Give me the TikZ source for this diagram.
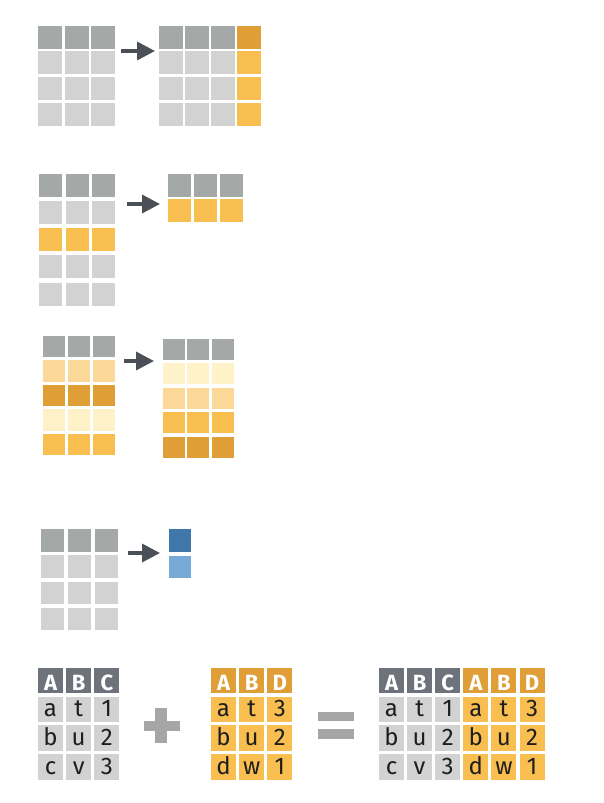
\documentclass[tikz,border=0pt]{standalone}
\usepackage{fontspec}
\setmainfont{Fira Sans}
\usepackage{xcolor}
\usetikzlibrary{arrows.meta}
\definecolor{hdrgray}{HTML}{A4A8A6}
\definecolor{cellgray}{HTML}{D2D2D2}
\definecolor{darkorange}{HTML}{E09E36}
\definecolor{midorange}{HTML}{F9BE50}
\definecolor{lightorange}{HTML}{FBD898}
\definecolor{paleorange}{HTML}{FFF1C8}
\definecolor{darkblue}{HTML}{3F77AB}
\definecolor{lightblue}{HTML}{77AAD7}
\definecolor{slate}{HTML}{6E737B}
\definecolor{arrowgray}{HTML}{4B4F56}
\definecolor{opgray}{HTML}{A6A6A6}
\definecolor{textblack}{HTML}{1E1E1E}
\tikzstyle{cell} = [rectangle, inner sep=0pt, minimum width=24pt, minimum height=23pt]
\tikzstyle{hcell} = [cell, minimum width=25pt, minimum height=25.5pt, text height=20pt, text depth=0pt, text=white, font=\bfseries\fontsize{22}{22}\selectfont]
\tikzstyle{dcell} = [cell, minimum width=25pt, minimum height=25.5pt, text height=15pt, text depth=0pt, text=textblack, font=\fontsize{24}{24}\selectfont]
\tikzstyle{line} = [draw, arrowgray, line width=3.5pt, -{Triangle[length=18pt,width=18pt]}]
\begin{document}
\begin{tikzpicture}[x=1pt,y=-1pt]
\useasboundingbox (0,0) rectangle (603,803);
% add a column
\foreach \c in {1,2,3} {
  \node [cell, fill=hdrgray] (add-l-0-\c) at ({50+26.7*(\c-1)},37) {};
  \foreach \r in {1,2,3}
    \node [cell, fill=cellgray] (add-l-\r-\c) at ({50+26.7*(\c-1)},{37+25.9*\r}) {};
}
\foreach \c in {1,2,3,4} {
  \node [cell, fill=hdrgray] (add-r-0-\c) at ({171+25.9*(\c-1)},37) {};
  \foreach \r in {1,2,3}
    \node [cell, fill=cellgray] (add-r-\r-\c) at ({171+25.9*(\c-1)},{37+25.9*\r}) {};
}
\node [cell, fill=darkorange] (add-new-0) at (add-r-0-4) {};
\foreach \r in {1,2,3}
  \node [cell, fill=midorange] (add-new-\r) at (add-r-\r-4) {};
\coordinate (arr-add-s) at (121,51);
\coordinate (arr-add-e) at (155,51);
\path [line] (arr-add-s) -- (arr-add-e);

% filter rows
\foreach \r/\col in {0/hdrgray,1/cellgray,2/midorange,3/cellgray,4/cellgray}
  \foreach \c in {1,2,3}
    \node [cell, minimum width=23pt, fill=\col] (flt-l-\r-\c) at ({50.5+26.5*(\c-1)},{185+27.3*\r}) {};
\foreach \r/\col in {0/hdrgray,1/midorange}
  \foreach \c in {1,2,3}
    \node [cell, minimum width=23pt, fill=\col] (flt-r-\r-\c) at ({179.5+26*(\c-1)},{185+25.5*\r}) {};
\coordinate (arr-flt-s) at (127,204);
\coordinate (arr-flt-e) at (160,204);
\path [line] (arr-flt-s) -- (arr-flt-e);

% arrange rows
\foreach \r/\col in {0/hdrgray,1/lightorange,2/darkorange,3/paleorange,4/midorange}
  \foreach \c in {1,2,3}
    \node [cell, minimum width=22pt, minimum height=21.5pt, fill=\col] (arr-l-\r-\c) at ({53.5+25.3*(\c-1)},{346.5+24.5*\r}) {};
\foreach \r/\col in {0/hdrgray,1/paleorange,2/lightorange,3/midorange,4/darkorange}
  \foreach \c in {1,2,3}
    \node [cell, minimum width=22pt, minimum height=21pt, fill=\col] (arr-r-\r-\c) at ({173.5+24.5*(\c-1)},{349+24.5*\r}) {};
\coordinate (arr-arr-s) at (124,361);
\coordinate (arr-arr-e) at (154,361);
\path [line] (arr-arr-s) -- (arr-arr-e);

% summarise
\foreach \r/\col in {0/hdrgray,1/cellgray,2/cellgray,3/cellgray}
  \foreach \c in {1,2,3}
    \node [cell, minimum width=23pt, minimum height=22.5pt, fill=\col] (sum-l-\r-\c) at ({52.5+27*(\c-1)},{540.5+26.2*\r}) {};
\node [cell, minimum width=22pt, minimum height=22.5pt, fill=darkblue] (sum-r-0) at (180,540.5) {};
\node [cell, minimum width=22pt, minimum height=22.5pt, fill=lightblue] (sum-r-1) at (180,567) {};
\coordinate (arr-sum-s) at (128,553);
\coordinate (arr-sum-e) at (160,553);
\path [line] (arr-sum-s) -- (arr-sum-e);

% bind columns
\foreach \c/\t in {1/A,2/B,3/C}
  \node [hcell, fill=slate] (x-0-\c) at ({50.5+28.2*(\c-1)},680.5) {\t};
\foreach \r/\p/\q/\s in {1/a/t/1,2/b/u/2,3/c/v/3} {
  \node [dcell, fill=cellgray] (x-\r-1) at (50.5,{680.5+28.8*\r}) {\p};
  \node [dcell, fill=cellgray] (x-\r-2) at (78.7,{680.5+28.8*\r}) {\q};
  \node [dcell, fill=cellgray] (x-\r-3) at (106.9,{680.5+28.8*\r}) {\s};
}
\foreach \c/\t in {1/A,2/B,3/D}
  \node [hcell, fill=darkorange] (y-0-\c) at ({223.5+28.2*(\c-1)},680.5) {\t};
\foreach \r/\p/\q/\s in {1/a/t/3,2/b/u/2,3/d/w/1} {
  \node [dcell, fill=midorange] (y-\r-1) at (223.5,{680.5+28.8*\r}) {\p};
  \node [dcell, fill=midorange] (y-\r-2) at (251.7,{680.5+28.8*\r}) {\q};
  \node [dcell, fill=midorange] (y-\r-3) at (279.9,{680.5+28.8*\r}) {\s};
}
\foreach \c/\t/\col in {1/A/slate,2/B/slate,3/C/slate,4/A/darkorange,5/B/darkorange,6/D/darkorange}
  \node [hcell, fill=\col] (xy-0-\c) at ({391.5+28.1*(\c-1)},680.5) {\t};
\foreach \r/\p/\q/\s/\u/\v/\w in {1/a/t/1/a/t/3,2/b/u/2/b/u/2,3/c/v/3/d/w/1} {
  \node [dcell, fill=cellgray] (xy-\r-1) at (391.5,{680.5+28.8*\r}) {\p};
  \node [dcell, fill=cellgray] (xy-\r-2) at (419.6,{680.5+28.8*\r}) {\q};
  \node [dcell, fill=cellgray] (xy-\r-3) at (447.7,{680.5+28.8*\r}) {\s};
  \node [dcell, fill=midorange] (xy-\r-4) at (475.8,{680.5+28.8*\r}) {\u};
  \node [dcell, fill=midorange] (xy-\r-5) at (503.9,{680.5+28.8*\r}) {\v};
  \node [dcell, fill=midorange] (xy-\r-6) at (532,{680.5+28.8*\r}) {\w};
}
% plus and equals
\fill [opgray] (155,708) rectangle (167,743);
\fill [opgray] (144,721) rectangle (180,731);
\fill [opgray] (318,712) rectangle (354,721);
\fill [opgray] (318,729) rectangle (354,739);
\end{tikzpicture}
\end{document}
